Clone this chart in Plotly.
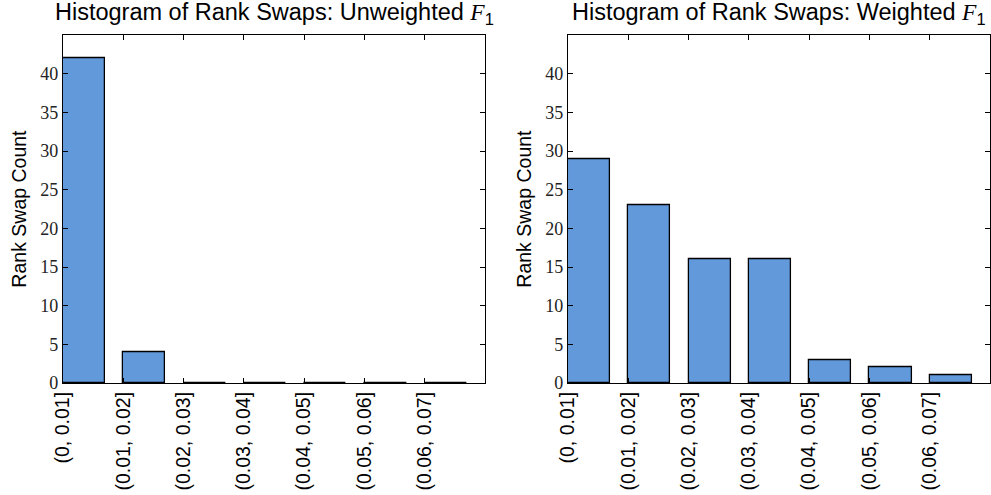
import plotly.graph_objects as go

# Bin labels and rank-swap counts per histogram
bins = ["(0, 0.01]", "(0.01, 0.02]", "(0.02, 0.03]", "(0.03, 0.04]",
        "(0.04, 0.05]", "(0.05, 0.06]", "(0.06, 0.07]"]
unweighted_counts = [42, 4, 0, 0, 0, 0, 0]
weighted_counts = [29, 23, 16, 16, 3, 2, 1]
y_ticks = [0, 5, 10, 15, 20, 25, 30, 35, 40]

BAR_W = 0.7
BAR_COLOR = "#6199db"
positions = list(range(len(bins)))
bar_x = [p + BAR_W / 2 for p in positions]

fig = go.Figure()

panels = [
    ("x", "y", unweighted_counts, "Unweighted", [0.0636, 0.4894]),
    ("x2", "y2", weighted_counts, "Weighted", [0.5732, 0.999]),
]

serif = "Liberation Serif, DejaVu Serif, serif"
sans = "Liberation Sans, Arial, Helvetica, sans-serif"

for i, (xa, ya, counts, kind, dom) in enumerate(panels):
    fig.add_trace(go.Bar(
        x=bar_x, y=counts, width=BAR_W, xaxis=xa, yaxis=ya,
        marker=dict(color=BAR_COLOR, line=dict(color="black", width=1.3)),
        showlegend=False,
    ))
    sfx = "" if i == 0 else "2"
    axis_common = dict(
        showline=True, linecolor="black", linewidth=1.3, mirror="ticks",
        ticks="inside", tickcolor="black", ticklen=5, tickwidth=1,
        showgrid=False, zeroline=False, automargin=False,
    )
    fig.layout["xaxis" + sfx] = dict(
        domain=dom, range=[0, len(bins)], tickvals=positions, ticktext=bins,
        tickangle=-90, tickfont=dict(family=sans, size=19.5, color="black"),
        anchor=ya, **axis_common,
    )
    fig.layout["yaxis" + sfx] = dict(
        domain=[0.2263, 0.929], range=[0, 45], tickvals=y_ticks,
        tickfont=dict(family=serif, size=18, color="#222"),
        title=dict(text="Rank Swap Count",
                   font=dict(family=sans, size=19.5, color="black"), standoff=8),
        anchor=xa, **axis_common,
    )
    fig.add_annotation(
        x=(dom[0] + dom[1]) / 2, y=0.94, xref="paper", yref="paper",
        xanchor="center", yanchor="bottom", showarrow=False,
        text=("Histogram of Rank Swaps: " + kind +
              " <span style='font-family:Liberation Serif'><i>F</i></span>"
              "<sub>1</sub>"),
        font=dict(family=sans, size=23.5, color="black"),
    )

fig.update_layout(
    width=991, height=495, margin=dict(l=0, r=0, t=0, b=0),
    paper_bgcolor="white", plot_bgcolor="white", bargap=0,
)

fig.write_html("out.html")
